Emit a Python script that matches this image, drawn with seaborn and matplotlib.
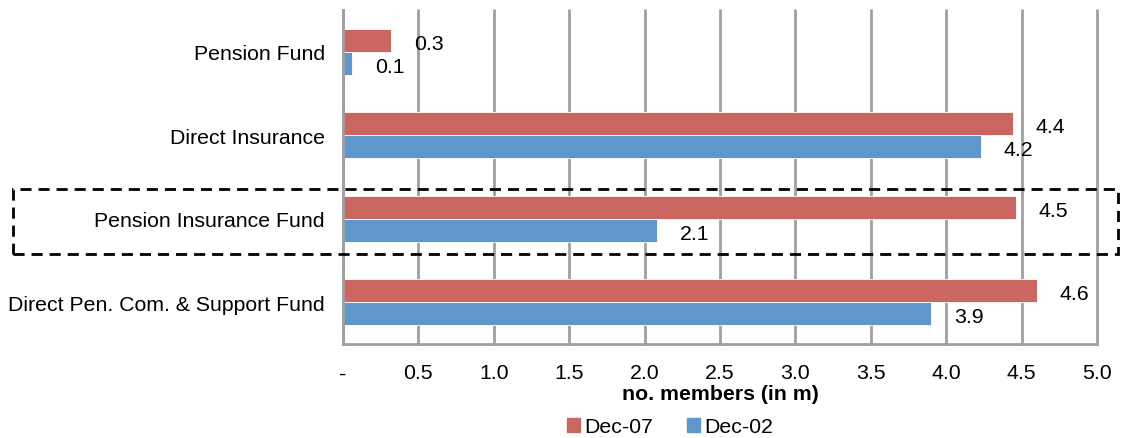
import pandas as pd
import numpy as np
import seaborn as sns
import matplotlib.pyplot as plt
from matplotlib.patches import Rectangle

categories = ["Pension Fund", "Direct Insurance", "Pension Insurance Fund",
              "Direct Pen. Com. & Support Fund"]
dec07 = [0.32, 4.44, 4.46, 4.60]
dec02 = [0.06, 4.23, 2.08, 3.90]
series = ["Dec-07", "Dec-02"]
colors = ["#CC6660", "#5F97CC"]
xticks = [0, 0.5, 1.0, 1.5, 2.0, 2.5, 3.0, 3.5, 4.0, 4.5, 5.0]
xticklabels = ["-"] + [f"{t:.1f}" for t in xticks[1:]]

df = pd.DataFrame({
    "Category": categories * 2,
    "Series": [series[0]] * len(categories) + [series[1]] * len(categories),
    "Value": dec07 + dec02,
})

sns.set_theme(style="white")
plt.rcParams['font.family'] = ['Liberation Sans', 'DejaVu Sans']
plt.rcParams['text.color'] = 'black'
plt.rcParams['axes.labelcolor'] = 'black'
plt.rcParams['xtick.labelcolor'] = 'black'
plt.rcParams['ytick.labelcolor'] = 'black'
fs = 15.3
gray = "#A0A0A0"

fig = plt.figure(figsize=(11.21, 4.39), dpi=100)
ax = fig.add_axes([343 / 1121, 1 - 345 / 439, (1097 - 343) / 1121, (345 - 11) / 439])

sns.barplot(data=df, y="Category", x="Value", hue="Series", hue_order=series,
            palette=colors, orient="h", width=0.55, errorbar=None, ax=ax,
            edgecolor="white", linewidth=0.6, legend=False, saturation=1)

for cont in ax.containers:
    anns = ax.bar_label(cont, fmt="%.1f", padding=16.5, fontsize=fs, color="black")
    for a in anns:
        a.xyann = (a.xyann[0], -2)

ax.set_xlim(0, 5.0)
ax.set_ylim(len(categories) - 0.5, -0.5)
ax.set_xticks(xticks)
ax.set_xticklabels(xticklabels, fontsize=fs)
ax.set_yticks(range(len(categories)))
ax.set_yticklabels(categories, fontsize=fs)
ax.set_yticks(np.arange(-0.5, len(categories), 1), minor=True)
ax.tick_params(axis="y", which="major", length=0, pad=13)
ax.tick_params(axis="y", which="minor", length=5, width=1.8, color=gray, direction="out")
ax.tick_params(axis="x", which="major", length=4, width=1.8, color=gray, direction="out", pad=10)

ax.set_xlabel("no. members (in m)", fontsize=fs, fontweight="bold", labelpad=1)
ax.set_ylabel("")

ax.grid(axis="x", color=gray, linewidth=2)
for gl in ax.get_xgridlines():
    gl.set_clip_on(False)
ax.set_axisbelow(True)
for s in ["top", "right"]:
    ax.spines[s].set_visible(False)
for s in ["left", "bottom"]:
    ax.spines[s].set_color(gray)
    ax.spines[s].set_linewidth(2)

# dashed highlight box around the Pension Insurance Fund row
box = Rectangle((13 / 1121, 1 - 255 / 439), (1118 - 13) / 1121, 65 / 439,
                transform=fig.transFigure, fill=False, edgecolor="black",
                linewidth=2, linestyle=(0, (4, 2.5)), clip_on=False)
fig.add_artist(box)

handles = [plt.Rectangle((0, 0), 1, 1, color=c) for c in colors]
fig.legend(handles, series, loc="center", bbox_to_anchor=(670 / 1121, 1 - 428 / 439),
           ncol=2, frameon=False, fontsize=fs, handlelength=0.6, handleheight=0.6,
           handletextpad=0.2, columnspacing=1.6, borderaxespad=0)

fig.savefig("out.png", dpi=100)
